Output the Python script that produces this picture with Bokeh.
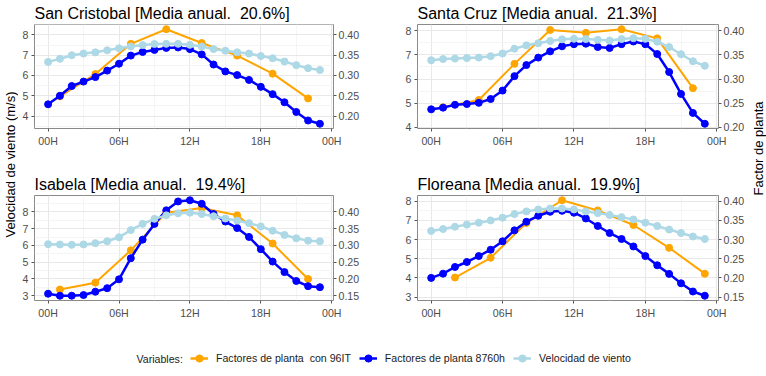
import math
from bokeh.plotting import figure
from bokeh.models import (Range1d, LinearAxis, FixedTicker, SingleIntervalTicker,
                          PrintfTickFormatter, Label, Legend, LegendItem)
from bokeh.layouts import row, column
from bokeh.embed import file_html
from bokeh.resources import INLINE

# ---------------- data ----------------
hours = list(range(24))
x_ticks = [0, 6, 12, 18, 24]
x_minor = [3, 9, 15, 21]
x_tick_labels = ["00H", "06H", "12H", "18H", "00H"]

islands = ["San Cristobal", "Santa Cruz", "Isabela", "Floreana"]
media_anual = ["20.6%", "21.3%", "19.4%", "19.9%"]

# wind speed (m/s)
wind_sancristobal = [6.67, 6.82, 7.00, 7.08, 7.14, 7.24, 7.34, 7.43, 7.50, 7.55, 7.56, 7.56,
                     7.51, 7.43, 7.30, 7.22, 7.14, 7.08, 6.96, 6.85, 6.69, 6.51, 6.36, 6.27]
wind_santacruz = [6.78, 6.83, 6.85, 6.87, 6.89, 6.95, 7.06, 7.26, 7.40, 7.49, 7.58, 7.65,
                  7.67, 7.66, 7.63, 7.60, 7.66, 7.70, 7.67, 7.55, 7.33, 7.03, 6.74, 6.55]
wind_isabela = [6.08, 6.06, 6.04, 6.06, 6.14, 6.25, 6.49, 6.92, 7.29, 7.59, 7.80, 7.92,
                7.96, 7.88, 7.75, 7.61, 7.49, 7.33, 7.14, 6.88, 6.63, 6.43, 6.29, 6.25]
wind_floreana = [6.45, 6.55, 6.67, 6.78, 6.88, 7.00, 7.14, 7.33, 7.47, 7.57, 7.62, 7.62,
                 7.57, 7.47, 7.38, 7.28, 7.17, 7.05, 6.88, 6.71, 6.52, 6.34, 6.16, 6.03]

# plant factor, 8760 h
fp8760_sancristobal = [0.229, 0.250, 0.274, 0.285, 0.296, 0.312, 0.329, 0.349, 0.358, 0.363, 0.368, 0.369,
                       0.365, 0.352, 0.327, 0.310, 0.301, 0.289, 0.272, 0.254, 0.234, 0.210, 0.189, 0.181]
fp8760_santacruz = [0.237, 0.2405, 0.2465, 0.248, 0.2505, 0.2585, 0.276, 0.306, 0.329, 0.3445, 0.3575, 0.368,
                    0.3725, 0.3735, 0.3665, 0.3645, 0.3725, 0.378, 0.3725, 0.352, 0.3145, 0.269, 0.2295, 0.207]
fp8760_isabela = [0.156, 0.150, 0.150, 0.152, 0.162, 0.1725, 0.199, 0.262, 0.3175, 0.3645, 0.405, 0.4315,
                  0.435, 0.4245, 0.394, 0.3715, 0.352, 0.3255, 0.289, 0.252, 0.2205, 0.194, 0.1785, 0.1755]
fp8760_floreana = [0.200, 0.211, 0.2285, 0.2415, 0.257, 0.2735, 0.2955, 0.324, 0.3465, 0.362, 0.3725, 0.375,
                   0.370, 0.355, 0.3355, 0.317, 0.3015, 0.282, 0.257, 0.233, 0.2105, 0.186, 0.1645, 0.1535]

# plant factor with 96IT
hours96_sancristobal = [1, 4, 7, 10, 13, 16, 19, 22]
hours96_santacruz = [1, 4, 7, 10, 13, 16, 19, 22]
hours96_isabela = [1, 4, 7, 10, 13, 16, 19, 22]
hours96_floreana = [2, 5, 8, 11, 14, 17, 20, 23]
fp96_sancristobal = [0.2485, 0.3035, 0.378, 0.414, 0.380, 0.349, 0.3045, 0.2435]
fp96_santacruz = [0.2415, 0.2565, 0.3315, 0.402, 0.396, 0.4035, 0.3845, 0.281]
fp96_isabela = [0.1685, 0.189, 0.2855, 0.398, 0.412, 0.390, 0.306, 0.200]
fp96_floreana = [0.201, 0.2525, 0.343, 0.4025, 0.376, 0.338, 0.2785, 0.211]

SEC = 20.0  # plant factor = wind-axis value / 20

series_names = ["Factores de planta  con 96IT", "Factores de planta 8760h", "Velocidad de viento"]
series_colors = ["#FFA500", "#0000FF", "#ADD8E6"]

FONT = "Liberation Sans"
TICK_COLOR = "#4D4D4D"
MS = 7


def panel(name, media, wind, fp8760, hrs96, fp96, width, height, bl, br, bt, bb):
    allv = list(wind) + [v * SEC for v in fp8760] + [v * SEC for v in fp96]
    lo, hi = min(allv), max(allv)
    pad = 0.05 * (hi - lo)
    xlo, xhi = min(hours), max(hours)
    xpad = 0.05 * (xhi - xlo)
    p = figure(width=width, height=height,
               x_range=Range1d(xlo - xpad, xhi + xpad),
               y_range=Range1d(lo - pad, hi + pad),
               output_backend="svg", toolbar_location=None,
               min_border_left=bl, min_border_right=br,
               min_border_top=bt, min_border_bottom=bb,
               title=f"{name} [Media anual.\u00a0 {media}]")
    p.extra_y_ranges = {"fp": Range1d((lo - pad) / SEC, (hi + pad) / SEC)}
    p.title.text_font = FONT
    p.title.text_font_size = "16px"
    p.title.text_font_style = "normal"
    p.title.text_color = "#000000"
    p.title.align = "left"
    p.title.offset = 0
    p.title.standoff = 5

    p.outline_line_color = "#8A8A8A"
    p.outline_line_width = 1
    p.background_fill_color = "white"
    p.border_fill_color = "white"

    xt = FixedTicker(ticks=x_ticks, minor_ticks=x_minor)
    yt = SingleIntervalTicker(interval=1, num_minor_ticks=2)
    p.xaxis.ticker = xt
    p.xgrid.ticker = xt
    p.yaxis.ticker = yt
    p.ygrid.ticker = yt
    p.xaxis.major_label_overrides = {t: l for t, l in zip(x_ticks, x_tick_labels)}

    fpt = SingleIntervalTicker(interval=0.05, num_minor_ticks=0)
    ax2 = LinearAxis(y_range_name="fp", ticker=fpt, formatter=PrintfTickFormatter(format="%.2f"))
    p.add_layout(ax2, "right")

    for ax in p.axis:
        ax.axis_line_color = None
        ax.major_tick_line_color = "#555555"
        ax.major_tick_out = 3
        ax.major_tick_in = 0
        ax.minor_tick_line_color = None
        ax.major_label_text_font = FONT
        ax.major_label_text_font_size = "10.6px"
        ax.major_label_text_color = TICK_COLOR
        ax.major_label_standoff = 2

    for g in (p.xgrid, p.ygrid):
        g.grid_line_color = "#E8E8E8"
        g.grid_line_width = 1
        g.minor_grid_line_color = "#F2F2F2"
        g.minor_grid_line_width = 0.8

    p.line(hrs96, fp96, y_range_name="fp", line_color=series_colors[0], line_width=2)
    p.scatter(hrs96, fp96, y_range_name="fp", color=series_colors[0], size=MS)
    p.line(hours, fp8760, y_range_name="fp", line_color=series_colors[1], line_width=2.5)
    p.scatter(hours, fp8760, y_range_name="fp", color=series_colors[1], size=MS)
    p.line(hours, wind, line_color=series_colors[2], line_width=2.5)
    p.scatter(hours, wind, color=series_colors[2], size=MS)
    return p


p1 = panel(islands[0], media_anual[0], wind_sancristobal, fp8760_sancristobal,
           hours96_sancristobal, fp96_sancristobal, 358, 165, 16, 43, 23, 37)
p2 = panel(islands[1], media_anual[1], wind_santacruz, fp8760_santacruz,
           hours96_santacruz, fp96_santacruz, 372, 165, 41, 30, 23, 37)
p3 = panel(islands[2], media_anual[2], wind_isabela, fp8760_isabela,
           hours96_isabela, fp96_isabela, 358, 165, 16, 43, 30, 30)
p4 = panel(islands[3], media_anual[3], wind_floreana, fp8760_floreana,
           hours96_floreana, fp96_floreana, 372, 165, 41, 30, 30, 30)


def strip(text, x, y):
    s = figure(width=18, height=330, x_range=Range1d(0, 18), y_range=Range1d(0, 330),
               output_backend="svg", toolbar_location=None,
               x_axis_type=None, y_axis_type=None, min_border=0)
    s.outline_line_color = None
    s.grid.visible = False
    s.add_layout(Label(x=x, y=y, text=text, angle=math.pi / 2, text_align="center",
                       text_baseline="middle", text_font=FONT, text_font_size="13px",
                       text_color="#000000"))
    return s


left = strip("Velocidad de viento (m/s)", 10, 166)
right = strip("Factor de planta", 10, 182)

leg = figure(width=766, height=46, x_range=Range1d(0, 766), y_range=Range1d(0, 46),
             output_backend="svg", toolbar_location=None,
             x_axis_type=None, y_axis_type=None, min_border=0)
leg.outline_line_color = None
leg.grid.visible = False
items = []
for i, (nm, col) in enumerate(zip(series_names, series_colors)):
    lr = leg.line([-50, -40], [-50, -50], line_color=col, line_width=2.5)
    sr = leg.scatter([-45], [-50], color=col, size=MS)
    items.append(LegendItem(label=nm, renderers=[lr, sr]))
legend = Legend(items=items, orientation="horizontal", location=(190, 8),
                padding=0, margin=0, spacing=8, label_standoff=8,
                glyph_width=18, glyph_height=20, label_height=20,
                label_text_font=FONT, label_text_font_size="10.6px",
                label_text_color="#1A1A1A",
                border_line_color=None, background_fill_alpha=0)
leg.add_layout(legend, "center")
leg.add_layout(Label(x=136, y=18, text="Variables:", text_baseline="middle",
                     text_font=FONT, text_font_size="10.6px", text_color="#1A1A1A"))

layout = column(row(left, column(row(p1, p2), row(p3, p4)), right), leg)

open("out.html", "w").write(file_html(layout, INLINE))
